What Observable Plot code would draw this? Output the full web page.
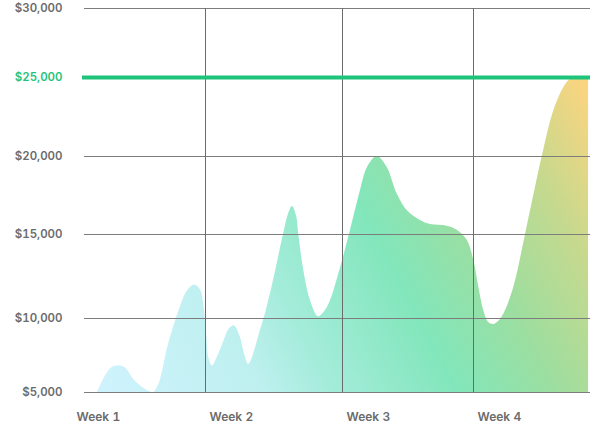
<!DOCTYPE html>
<html><head><meta charset="utf-8">
<script src="https://cdn.jsdelivr.net/npm/d3@7"></script>
<script src="https://cdn.jsdelivr.net/npm/@observablehq/plot@0.6"></script>
<style>body{margin:0;background:#fff;} svg{display:block;}</style>
</head><body><div id="chart"></div>
<script>
const weekLabels = ["Week 1", "Week 2", "Week 3", "Week 4"];
const weekDays = [0, 7, 14, 21];
const yTicks = [5000, 10000, 15000, 20000, 25000, 30000];
const target = 25000;
const baseline = 5000;

const days = [1.316, 1.684, 2.053, 2.421, 2.789, 3.211, 3.737, 4.263, 4.526, 4.737, 5.0, 5.316,
  5.684, 6.053, 6.421, 6.737, 6.921, 7.051, 7.179, 7.358, 7.613, 7.92, 8.226, 8.482,
  8.789, 8.993, 9.198, 9.35, 9.555, 9.81, 10.066, 10.474, 10.985, 11.24, 11.444, 11.649,
  11.767, 12.022, 12.364, 12.773, 13.08, 13.387, 13.898, 14.427, 14.962, 15.336, 15.854, 16.388,
  16.923, 17.457, 18.168, 18.702, 19.595, 20.129, 20.664, 21.016, 21.284, 21.551, 21.8, 22.086,
  22.337, 22.62, 23.155, 23.78, 24.672, 25.292, 25.826, 26.093, 26.398, 27.146];
const revenue = [5000, 6000, 6650, 6800, 6650, 5900, 5300, 5000, 5500, 6400, 8000, 9400,
  10700, 11650, 12000, 11700, 10700, 9000, 7300, 6800, 7400, 8400, 9300, 9500,
  8700, 7600, 6900, 7200, 8000, 9200, 10300, 12260, 15000, 16300, 16800, 16200,
  15000, 12850, 11060, 10100, 10400, 11060, 13000, 15270, 17820, 19300, 20000, 19300,
  17600, 16540, 15900, 15640, 15530, 15270, 14660, 13460, 11860, 10460, 9750, 9600,
  9800, 10260, 11860, 15000, 20000, 22900, 24370, 24800, 25000, 25000];

const data = days.map((d, i) => ({day: d, value: revenue[i]}));

const gradientStops = [
  [0, "#cff3fd"], [0.25, "#bff0f0"], [0.36, "#a4ecda"], [0.55, "#82e6bb"],
  [0.7, "#9cdea0"], [0.85, "#c6d98e"], [1, "#ffd47f"]
];

// Uneven spacing of the original's gridlines, as piecewise position maps
const xDomain = [0, 27.25];
const xPix = d3.scaleLinear().domain([0, 7, 14, 21, 27.25].map(v => v / 27.25)).range([72, 205, 342, 473, 590]);
const yDomain = [5000, 30000];
const yPix = d3.scaleLinear().domain([0, 0.2, 0.4, 0.6, 0.8, 1]).range([392, 318, 234, 156, 77, 8]);

const money = d => "$" + d3.format(",")(d);
const font = {fontFamily: "Inter, 'Open Sans', sans-serif", fontWeight: 600, fontSize: 11.5};

const chart = Plot.plot({
  width: 590,
  height: 426,
  marginTop: 8,
  marginBottom: 34,
  marginLeft: 84,
  marginRight: 0,
  x: {domain: xDomain, interpolate: t => xPix(t)},
  y: {domain: yDomain, interpolate: t => yPix(t)},
  style: {fontFamily: "Inter, 'Open Sans', sans-serif", background: "#fff", overflow: "visible"},
  marks: [
    Plot.areaY(data, {x: "day", y1: baseline, y2: "value", curve: "catmull-rom", fill: "url(#revGrad)"}),
    Plot.ruleY(yTicks.filter(t => t !== target), {stroke: "#7d7d7d", strokeWidth: 1}),
    Plot.ruleX(weekDays.slice(1), {y1: yTicks[0], y2: yTicks[yTicks.length - 1], stroke: "#6b6b6b", strokeWidth: 1}),
    Plot.ruleY([target], {stroke: "#1fc47b", strokeWidth: 4, insetLeft: -2}),
    Plot.axisY(yTicks.filter(t => t !== target), {anchor: "left", label: null, tickSize: 0, tickPadding: 22, tickFormat: money, fill: "#6b6b6b", ...font}),
    Plot.axisY([target], {anchor: "left", label: null, tickSize: 0, tickPadding: 22, tickFormat: money, fill: "#1fc47b", ...font}),
    Plot.axisX(weekDays, {anchor: "bottom", label: null, tickSize: 0, tickPadding: 20, textAnchor: "start", dx: 4,
      tickFormat: d => weekLabels[weekDays.indexOf(d)], fill: "#6b6b6b", ...font, fontSize: 12})
  ]
});

const svg = d3.select(chart.tagName.toLowerCase() === "svg" ? chart : chart.querySelector("svg"));
const grad = svg.insert("defs", ":first-child").append("linearGradient")
  .attr("id", "revGrad")
  .attr("x1", 0).attr("y1", 1).attr("x2", 1.2).attr("y2", 0.6);
for (const [o, c] of gradientStops) grad.append("stop").attr("offset", o).attr("stop-color", c);

document.getElementById("chart").appendChild(chart);
</script>
</body></html>
